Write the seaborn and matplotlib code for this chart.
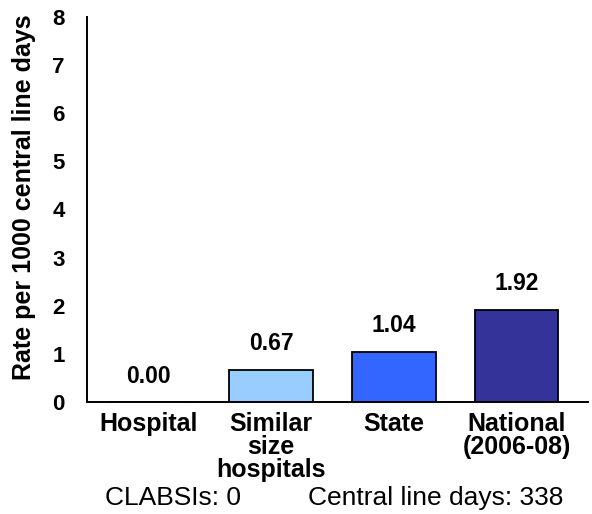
import seaborn as sns
import matplotlib.pyplot as plt
import pandas as pd

categories = ["Hospital", "Similar\nsize\nhospitals", "State", "National\n(2006-08)"]
rates = [0.00, 0.67, 1.04, 1.92]
bar_colors = ["#99CCFF", "#99CCFF", "#3366FF", "#333399"]
value_labels = ["0.00", "0.67", "1.04", "1.92"]
y_ticks = [0, 1, 2, 3, 4, 5, 6, 7, 8]
clabsi_text = "CLABSIs: 0"
days_text = "Central line days: 338"

sns.set_theme(style='white')
plt.rcParams['font.family'] = ['Liberation Sans', 'DejaVu Sans']
plt.rcParams['text.color'] = 'black'
plt.rcParams['axes.labelcolor'] = 'black'
plt.rcParams['xtick.color'] = 'black'
plt.rcParams['ytick.color'] = 'black'

df = pd.DataFrame({'category': categories, 'rate': rates})

fig = plt.figure(figsize=(5.92, 5.14), dpi=100)
ax = fig.add_axes([0.147, 0.218, 0.846, 0.749])

sns.barplot(data=df, x='category', y='rate', hue='category', palette=bar_colors,
            legend=False, width=0.68, edgecolor='black', linewidth=1.3,
            saturation=1, ax=ax)

for i, (v, lab) in enumerate(zip(rates, value_labels)):
    ax.annotate(lab, (i, v), xytext=(0, 14), textcoords='offset points',
                ha='center', va='baseline', fontsize=16.5, fontweight='bold')

ax.set_xlim(-0.5, 3.58)
ax.set_ylim(0, 8)
ax.set_yticks(y_ticks)
ax.set_yticklabels([str(t) for t in y_ticks], fontsize=16, fontweight='bold')
ax.set_xticks(range(len(categories)))
ax.set_xticklabels(categories, fontsize=18, fontweight='bold', linespacing=0.95)
ax.tick_params(axis='x', which='major', length=0, pad=7)
ax.set_xticks([-0.5, 3.58], minor=True)
ax.tick_params(axis='x', which='minor', length=4, width=1.3, direction='out')
ax.tick_params(axis='y', length=5, width=1.3, direction='out', pad=11)

ax.set_xlabel('')
ax.set_ylabel('Rate per 1000 central line days', fontsize=18, fontweight='bold')
ax.yaxis.set_label_coords(-0.102, 0.532)

sns.despine(ax=ax)
for s in ['left', 'bottom']:
    ax.spines[s].set_color('black')
    ax.spines[s].set_linewidth(1.4)

fig.text(173 / 592, 0.031, clabsi_text, ha='center', va='center', fontsize=19)
fig.text(436 / 592, 0.031, days_text, ha='center', va='center', fontsize=19)

fig.savefig('out.png', dpi=100)
